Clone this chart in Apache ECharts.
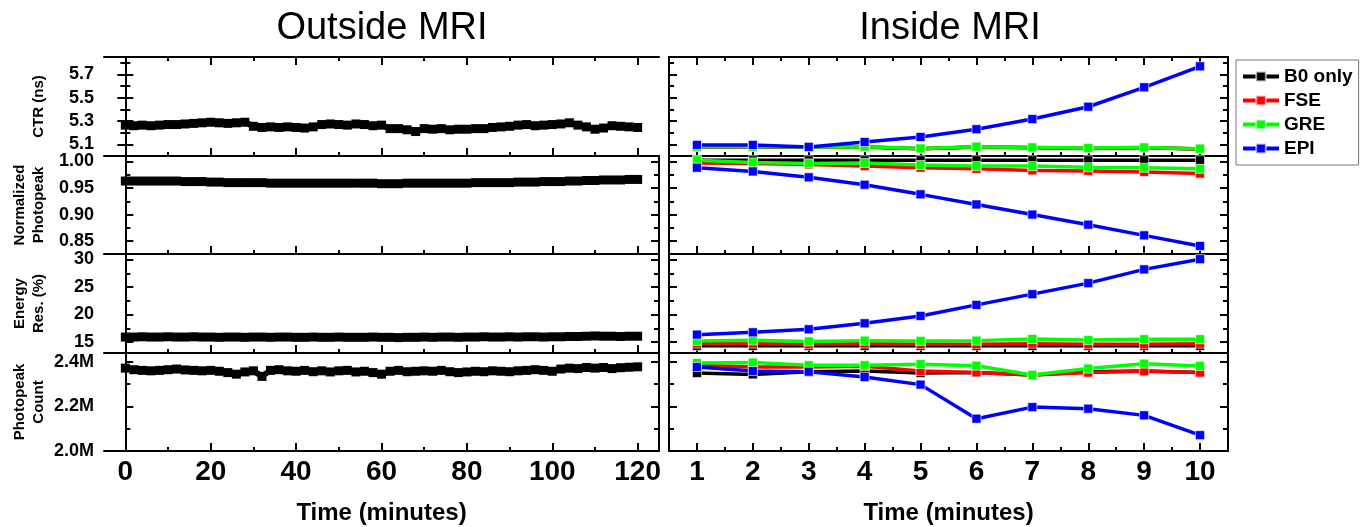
<!DOCTYPE html>
<html><head><meta charset="utf-8">
<script src="https://cdn.jsdelivr.net/npm/echarts@6/dist/echarts.min.js"></script>
<style>html,body{margin:0;padding:0;background:#fff}#c{width:1368px;height:527px}</style>
</head><body><div id="c"></div>
<script>
// ---------- DATA ----------
const TIME_OUT = [0,2,4,6,8,10,12,14,16,18,20,22,24,26,28,30,32,34,36,38,40,42,44,46,48,50,52,54,56,58,60,62,64,66,68,70,72,74,76,78,80,82,84,86,88,90,92,94,96,98,100,102,104,106,108,110,112,114,116,118,120];
const CTR_OUT = [5.265,5.26,5.265,5.26,5.265,5.27,5.27,5.275,5.28,5.285,
 5.29,5.285,5.28,5.285,5.29,5.255,5.245,5.25,5.245,5.25,
 5.245,5.24,5.25,5.27,5.275,5.27,5.265,5.275,5.27,5.26,
 5.265,5.235,5.235,5.225,5.21,5.235,5.23,5.235,5.225,5.23,
 5.23,5.235,5.235,5.245,5.25,5.255,5.265,5.27,5.26,5.265,
 5.27,5.275,5.285,5.265,5.25,5.23,5.24,5.26,5.255,5.25,
 5.245];
const NORM_OUT = [0.963,0.963,0.963,0.963,0.963,0.963,0.963,0.962,0.962,0.962,
 0.961,0.961,0.960,0.960,0.960,0.960,0.960,0.959,0.959,0.959,
 0.959,0.959,0.959,0.959,0.959,0.959,0.959,0.959,0.959,0.959,
 0.958,0.958,0.958,0.959,0.959,0.959,0.959,0.959,0.959,0.959,
 0.959,0.960,0.960,0.960,0.960,0.960,0.961,0.961,0.961,0.962,
 0.962,0.962,0.963,0.963,0.964,0.964,0.965,0.965,0.965,0.966,
 0.966];
const ERES_OUT = [15.9,15.9,15.95,15.9,15.9,15.95,15.9,15.9,15.95,15.9,
 15.9,15.85,15.9,15.9,15.85,15.9,15.9,15.85,15.9,15.9,
 15.85,15.85,15.9,15.85,15.85,15.9,15.85,15.85,15.85,15.9,
 15.85,15.85,15.8,15.85,15.85,15.9,15.85,15.9,15.9,15.85,
 15.9,15.9,15.95,15.9,15.9,15.95,15.9,15.95,15.95,15.9,
 15.95,15.95,16.0,16.0,16.05,16.1,16.05,16.05,16.0,16.05,
 16.05];
const COUNT_OUT = [2.372,2.365,2.362,2.360,2.362,2.365,2.368,2.364,2.362,2.360,
 2.362,2.358,2.352,2.345,2.355,2.360,2.335,2.362,2.365,2.360,
 2.358,2.362,2.356,2.360,2.355,2.360,2.362,2.355,2.358,2.352,
 2.345,2.358,2.362,2.356,2.358,2.360,2.358,2.362,2.356,2.352,
 2.355,2.358,2.356,2.360,2.358,2.356,2.360,2.362,2.365,2.362,
 2.358,2.368,2.372,2.370,2.375,2.372,2.375,2.370,2.374,2.376,
 2.378];

const TIME_IN = [1,2,3,4,5,6,7,8,9,10];
const SERIES_NAMES = ['B0 only','FSE','GRE','EPI'];
const CTR_IN = {
  'B0 only': [5.077,5.077,5.075,5.077,5.062,5.077,5.071,5.065,5.071,5.06],
  'FSE':     [5.078,5.078,5.076,5.078,5.063,5.078,5.072,5.066,5.072,5.061],
  'GRE':     [5.08,5.08,5.078,5.08,5.065,5.08,5.074,5.068,5.074,5.063],
  'EPI':     [5.095,5.095,5.078,5.12,5.163,5.23,5.317,5.423,5.59,5.77]
};
const NORM_IN = {
  'B0 only': [1.002,1.002,1.002,1.002,1.002,1.002,1.002,1.002,1.002,1.002],
  'FSE':     [0.997,0.996,0.994,0.991,0.988,0.986,0.983,0.982,0.980,0.977],
  'GRE':     [1.002,0.998,0.996,0.997,0.993,0.991,0.991,0.989,0.988,0.986],
  'EPI':     [0.988,0.981,0.970,0.956,0.938,0.919,0.900,0.881,0.861,0.841]
};
const ERES_IN = {
  'B0 only': [14.3,14.3,14.3,14.3,14.3,14.3,14.3,14.3,14.3,14.3],
  'FSE':     [14.7,14.7,14.6,14.7,14.6,14.6,14.7,14.6,14.6,14.7],
  'GRE':     [15.2,15.3,15.1,15.25,15.2,15.25,15.55,15.35,15.5,15.5],
  'EPI':     [16.34,16.76,17.31,18.4,19.74,21.75,23.7,25.7,28.2,30.06]
};
const COUNT_IN = {
  'B0 only': [2.350,2.344,2.356,2.359,2.350,2.353,2.341,2.356,2.359,2.352],
  'FSE':     [2.385,2.377,2.377,2.380,2.359,2.353,2.341,2.352,2.358,2.352],
  'GRE':     [2.395,2.397,2.385,2.385,2.390,2.383,2.341,2.370,2.392,2.382],
  'EPI':     [2.377,2.359,2.356,2.332,2.298,2.145,2.197,2.190,2.160,2.071]
};
const COLORS = {'B0 only':'#000000','FSE':'#ff0000','GRE':'#00ff00','EPI':'#0000ff'};

const Y_TITLES = ['CTR (ns)','Normalized\nPhotopeak','Energy\nRes. (%)','Photopeak\nCount'];
const Y_MAJOR = [[5.1,5.3,5.5,5.7],[0.85,0.90,0.95,1.00],[15,20,25,30],[2.0,2.2,2.4]];
const Y_MINOR = [[5.2,5.4,5.6,5.8],[0.875,0.925,0.975],[17.5,22.5,27.5],[2.1,2.3]];
const X_OUT_MAJOR = [0,20,40,60,80,100,120];
const X_OUT_MINOR = [10,30,50,70,90,110];
const X_IN_MAJOR = [1,2,3,4,5,6,7,8,9,10];
const X_IN_MINOR = [1.5,2.5,3.5,4.5,5.5,6.5,7.5,8.5,9.5];

// ---------- LAYOUT ----------
const FONT = "'Liberation Sans', Arial, sans-serif";
const Y_RANGE = [[5.0,5.85],[0.826,1.01],[13,31],[2.0,2.44]];
const Y_FMT = [v=>v.toFixed(1), v=>v.toFixed(2), v=>String(v), v=>v.toFixed(1)+'M'];
const SIDES = [
  {left:104, width:555, min:-5, max:125, major:X_OUT_MAJOR, minor:X_OUT_MINOR},
  {left:669, width:559, min:0.5, max:10.5, major:X_IN_MAJOR, minor:X_IN_MINOR}
];
const TOPS = [57,156,254,353], HEIGHTS = [99,98,99,98];

const grid=[], xAxis=[], yAxis=[], series=[];
const tickStyle = {color:'#000', width:2};
function xAx(gi, side, pos, ticks, len, line, label, nameOn){
  const a = {type:'value', gridIndex:gi, position:pos, min:side.min, max:side.max,
    axisLine:{show:line, onZero:false, lineStyle:{color:'#000', width:2}},
    axisTick:{show:true, inside:true, length:len, customValues:ticks, lineStyle:tickStyle},
    axisLabel:{show:label, customValues:side.major, margin:7, fontSize:28, fontWeight:'bold', color:'#000', fontFamily:FONT},
    splitLine:{show:false}};
  if(nameOn){ a.name='Time (minutes)'; a.nameLocation='middle'; a.nameGap=50;
    a.nameTextStyle={fontSize:24, fontWeight:'bold', color:'#000', fontFamily:FONT}; }
  return a;
}
function yAx(gi, row, pos, ticks, len, line, label){
  return {type:'value', gridIndex:gi, position:pos, min:Y_RANGE[row][0], max:Y_RANGE[row][1],
    axisLine:{show:line, lineStyle:{color:'#000', width:2}},
    axisTick:{show:true, inside:true, length:len, customValues:ticks, lineStyle:tickStyle},
    axisLabel:{show:label, customValues:Y_MAJOR[row], formatter:Y_FMT[row], margin:10, fontSize:18, fontWeight:'bold', color:'#000', fontFamily:FONT},
    splitLine:{show:false}};
}
const OUT_DATA = [CTR_OUT, NORM_OUT, ERES_OUT, COUNT_OUT];
const IN_DATA = [CTR_IN, NORM_IN, ERES_IN, COUNT_IN];

for(let s=0;s<2;s++){
  for(let r=0;r<4;r++){
    const gi = grid.length, side = SIDES[s];
    grid.push({left:side.left, top:TOPS[r], width:side.width, height:HEIGHTS[r]});
    const xi = xAxis.length;
    xAxis.push(xAx(gi, side, 'bottom', side.major, 8, true, r===3, r===3));
    xAxis.push(xAx(gi, side, 'bottom', side.minor, 4, false, false, false));
    if(r===0){
      xAxis.push(xAx(gi, side, 'top', side.major, 8, true, false, false));
      xAxis.push(xAx(gi, side, 'top', side.minor, 4, false, false, false));
    }
    const yi = yAxis.length;
    yAxis.push(yAx(gi, r, 'left', Y_MAJOR[r], 8, true, s===0));
    yAxis.push(yAx(gi, r, 'left', Y_MINOR[r], 5, false, false));
    yAxis.push(yAx(gi, r, 'right', Y_MAJOR[r], 8, true, false));
    yAxis.push(yAx(gi, r, 'right', Y_MINOR[r], 5, false, false));
    if(s===0){
      series.push({type:'line', name:'outside-'+r, xAxisIndex:xi, yAxisIndex:yi,
        data:TIME_OUT.map((t,i)=>[t, OUT_DATA[r][i]]), symbol:'rect', symbolSize:9,
        itemStyle:{color:'#000'}, lineStyle:{color:'#000', width:6}, silent:true, animation:false});
    } else {
      SERIES_NAMES.forEach(n=>{
        series.push({type:'line', name:n, xAxisIndex:xi, yAxisIndex:yi,
          data:TIME_IN.map((t,i)=>[t, IN_DATA[r][n][i]]), symbol:'rect', symbolSize:9,
          itemStyle:{color:COLORS[n], borderColor:'rgba(255,255,255,0.6)', borderWidth:1},
          lineStyle:{color:COLORS[n], width:3.5}, animation:false});
      });
    }
  }
}

const graphic = [
  {type:'text', x:382, y:29, style:{text:'Outside MRI', font:'38px '+FONT, fill:'#000', textAlign:'center', textVerticalAlign:'middle'}},
  {type:'text', x:950, y:29, style:{text:'Inside MRI', font:'38px '+FONT, fill:'#000', textAlign:'center', textVerticalAlign:'middle'}}
];
Y_TITLES.forEach((t,r)=>{
  graphic.push({type:'text', x: t.indexOf('\n')>=0 ? 29 : 39, y: TOPS[r]+HEIGHTS[r]/2, rotation:Math.PI/2,
    style:{text:t, font:'bold 15px '+FONT, fill:'#000', textAlign:'center', textVerticalAlign:'middle', lineHeight:19}});
});

const chart = echarts.init(document.getElementById('c'), null, {renderer:'canvas'});
chart.setOption({
  animation:false,
  backgroundColor:'#fff',
  grid, xAxis, yAxis, series, graphic,
  legend:{data:SERIES_NAMES, orient:'vertical', left:1236, top:60, itemWidth:36, itemHeight:12, itemGap:5,
    padding:[7,6,7,5], borderColor:'#777', borderWidth:1, lineStyle:{width:4},
    textStyle:{fontSize:19, fontWeight:'bold', color:'#000', fontFamily:FONT}}
});
</script></body></html>
